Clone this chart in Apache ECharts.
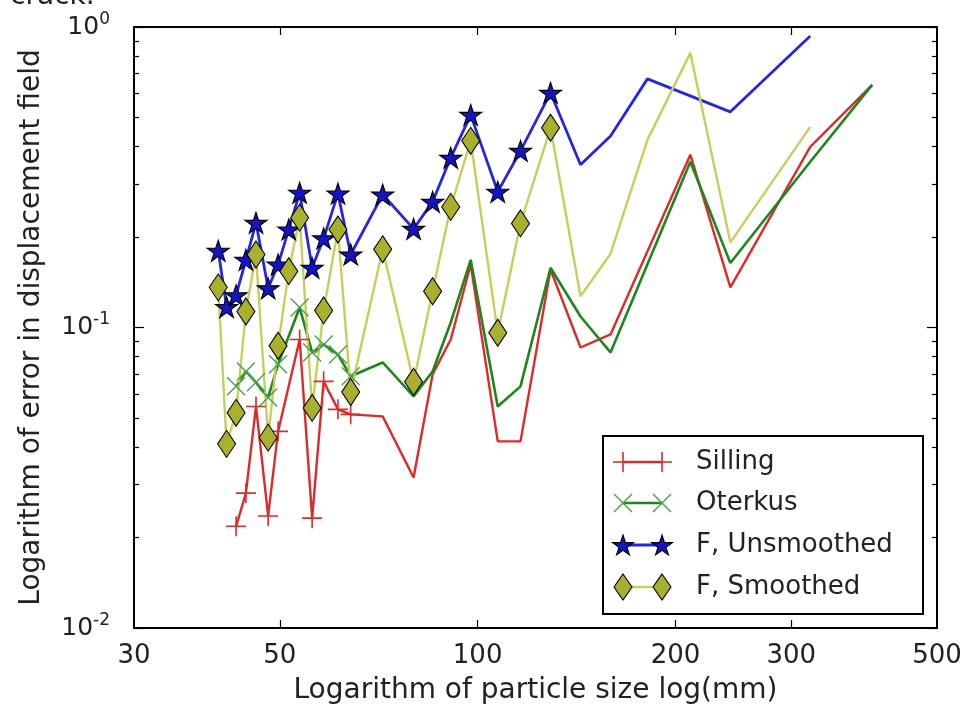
<!DOCTYPE html>
<html>
<head>
<meta charset="utf-8">
<script src="https://cdn.jsdelivr.net/npm/echarts@6/dist/echarts.min.js"></script>
<style>
  html, body { margin: 0; padding: 0; background: #fff; }
  #chart { width: 965px; height: 719px; }
</style>
</head>
<body>
<div id="chart"></div>
<script>
// Particle sizes (mm) for the two reference models
const sizeRef = [42.9, 44.4, 46.0, 48.0, 49.7, 53.6, 56.0, 58.3, 61.3, 64.1, 71.7, 79.9,
  85.4, 91.0, 97.6, 107.3, 116.2, 129.1, 143.4, 159.3, 210.7, 242.4, 320.7, 398.4];
const silling = [0.0218, 0.0281, 0.0546, 0.0236, 0.0451, 0.0912, 0.0232, 0.0662, 0.0534, 0.0514, 0.0506, 0.0317,
  0.0698, 0.0912, 0.162, 0.0418, 0.0418, 0.156, 0.0858, 0.0948, 0.376, 0.136, 0.399, 0.642];
const oterkus = [0.0637, 0.0714, 0.0657, 0.0585, 0.0754, 0.1165, 0.0826, 0.0878, 0.0813, 0.0688, 0.0765, 0.0590,
  0.0714, 0.1039, 0.168, 0.0546, 0.0637, 0.158, 0.1088, 0.0826, 0.356, 0.164, 0.356, 0.642];

// Particle sizes (mm) for the F model runs
const sizeUnsmoothed = [40.3, 41.5, 42.9, 44.4, 46.0, 48.0, 49.7, 51.6, 53.6, 56.0, 58.3, 61.3, 64.1, 71.7,
  79.9, 85.4, 91.0, 97.6, 107.3, 116.2, 129.1, 143.4, 159.3, 181.3, 242.4, 320.7];
const unsmoothed = [0.180, 0.117, 0.128, 0.168, 0.223, 0.135, 0.162, 0.212, 0.281, 0.158, 0.198, 0.279, 0.175, 0.277,
  0.213, 0.262, 0.367, 0.510, 0.283, 0.387, 0.604, 0.348, 0.434, 0.672, 0.522, 0.934];
const sizeSmoothed = [40.3, 41.5, 42.9, 44.4, 46.0, 48.0, 49.7, 51.6, 53.6, 56.0, 58.3, 61.3, 64.1, 71.7,
  79.9, 85.4, 91.0, 97.6, 107.3, 116.2, 129.1, 143.4, 159.3, 181.3, 210.7, 242.4, 320.7];
const smoothed = [0.136, 0.041, 0.052, 0.113, 0.175, 0.043, 0.087, 0.154, 0.232, 0.054, 0.114, 0.212, 0.061, 0.182,
  0.066, 0.132, 0.252, 0.418, 0.096, 0.222, 0.462, 0.127, 0.176, 0.421, 0.820, 0.192, 0.465];

// Axis ticks
const xTickLabels = [30, 50, 100, 200, 300, 500];
const xTicks = [50, 100, 200, 300];
const yMajor = [0.01, 0.1, 1];
const yMinor = [0.02, 0.03, 0.04, 0.05, 0.06, 0.07, 0.08, 0.09, 0.2, 0.3, 0.4, 0.5, 0.6, 0.7, 0.8, 0.9];

const FONT = 'DejaVu Sans';
const TEXT = '#222';

function starPath() {
  const pts = [];
  for (let k = 0; k < 10; k++) {
    const r = k % 2 === 0 ? 1 : 0.382;
    const a = -Math.PI / 2 + k * Math.PI / 5;
    pts.push((r * Math.cos(a)).toFixed(3) + ',' + (r * Math.sin(a)).toFixed(3));
  }
  return 'path://M' + pts.join('L') + 'Z';
}
const PLUS = 'path://M1,0L1,2M0,1L2,1';
const CROSS = 'path://M0,0L2,2M2,0L0,2';
const STAR = starPath();

const styles = [
  { name: 'Silling', xs: sizeRef, ys: silling, line: '#dd2a2a', width: 2.4, symbol: PLUS, size: 20,
    item: { color: 'none', borderColor: '#dd2a2a', borderWidth: 1.6 }, marked: 10, keep: false },
  { name: 'Oterkus', xs: sizeRef, ys: oterkus, line: '#1f861f', width: 2.6, symbol: CROSS, size: 18,
    item: { color: 'none', borderColor: '#4f9f4f', borderWidth: 1.4 }, marked: 10, keep: false },
  { name: 'F, Unsmoothed', xs: sizeUnsmoothed, ys: unsmoothed, line: '#2626e0', width: 2.8, symbol: STAR, size: 22,
    item: { color: '#1414c0', borderColor: '#000', borderWidth: 1.1 }, marked: 21, keep: true },
  { name: 'F, Smoothed', xs: sizeSmoothed, ys: smoothed, line: '#c6cf5c', width: 2.4, symbol: 'diamond', size: [18, 27],
    item: { color: '#a8b02c', borderColor: '#000', borderWidth: 1.1 }, marked: 21, keep: false }
];

const series = styles.map(s => ({
  name: s.name,
  type: 'line',
  xAxisIndex: 0,
  yAxisIndex: 0,
  data: s.xs.map((x, i) => i < s.marked ? { value: [x, s.ys[i]] } : { value: [x, s.ys[i]], symbol: 'none' }),
  symbol: s.symbol,
  symbolSize: s.size,
  symbolKeepAspect: s.keep,
  showAllSymbol: true,
  lineStyle: { color: s.line, width: s.width },
  itemStyle: s.item,
  emphasis: { disabled: true },
  silent: true,
  animation: false
}));

// Legend drawn as a framed box with a marker at each end of the sample line
function legendMarker(s, cx, cy) {
  const c = s.item.borderColor;
  if (s.symbol === PLUS) {
    return [
      { type: 'line', shape: { x1: cx - 10, y1: cy, x2: cx + 10, y2: cy }, style: { stroke: c, lineWidth: 1.6 } },
      { type: 'line', shape: { x1: cx, y1: cy - 10, x2: cx, y2: cy + 10 }, style: { stroke: c, lineWidth: 1.6 } }
    ];
  }
  if (s.symbol === CROSS) {
    return [
      { type: 'line', shape: { x1: cx - 9, y1: cy - 9, x2: cx + 9, y2: cy + 9 }, style: { stroke: c, lineWidth: 1.4 } },
      { type: 'line', shape: { x1: cx + 9, y1: cy - 9, x2: cx - 9, y2: cy + 9 }, style: { stroke: c, lineWidth: 1.4 } }
    ];
  }
  if (s.symbol === STAR) {
    const pts = [];
    for (let k = 0; k < 10; k++) {
      const r = k % 2 === 0 ? 11 : 4.2;
      const a = -Math.PI / 2 + k * Math.PI / 5;
      pts.push([cx + r * Math.cos(a), cy + 1 + r * Math.sin(a)]);
    }
    return [{ type: 'polygon', shape: { points: pts }, style: { fill: s.item.color, stroke: '#000', lineWidth: 1.1 } }];
  }
  return [{ type: 'polygon', shape: { points: [[cx, cy - 13], [cx + 9, cy], [cx, cy + 13], [cx - 9, cy]] },
    style: { fill: s.item.color, stroke: '#000', lineWidth: 1.1 } }];
}

const legendRows = [462, 503, 545, 587];
const legendChildren = [
  { type: 'rect', shape: { x: 603, y: 436, width: 320, height: 178 }, style: { fill: '#fff', stroke: '#000', lineWidth: 2 } }
];
styles.forEach((s, i) => {
  const y = legendRows[i];
  legendChildren.push({ type: 'line', shape: { x1: 623, y1: y, x2: 662, y2: y }, style: { stroke: s.line, lineWidth: s.width } });
  legendMarker(s, 623, y).forEach(m => legendChildren.push(m));
  legendMarker(s, 662, y).forEach(m => legendChildren.push(m));
  legendChildren.push({ type: 'text', x: 696, y: y, style: { text: s.name, font: '26px "' + FONT + '"', fill: TEXT, verticalAlign: 'middle' } });
});

function logAxis(extra) {
  return Object.assign({
    type: 'log',
    logBase: 10,
    splitLine: { show: false },
    minorTick: { show: false },
    axisLine: { show: false, lineStyle: { color: '#000', width: 2 } },
    axisTick: { show: false },
    axisLabel: { show: false }
  }, extra);
}

const xBase = { min: 30, max: 500 };
const yBase = { min: 0.01, max: 1 };

const option = {
  backgroundColor: '#fff',
  animation: false,
  grid: { left: 134, right: 28, top: 27, bottom: 91, containLabel: false, outerBoundsMode: 'none' },
  xAxis: [
    logAxis(Object.assign({}, xBase, {
      position: 'bottom',
      axisLine: { show: true, onZero: false, lineStyle: { color: '#000', width: 2 } },
      axisTick: { show: true, inside: true, length: 8, customValues: xTicks, lineStyle: { color: '#000', width: 1.2 } },
      axisLabel: { show: true, customValues: xTickLabels, fontSize: 26, fontFamily: FONT, color: TEXT, margin: 15 },
      name: 'Logarithm of particle size log(mm)',
      nameLocation: 'middle',
      nameGap: 49,
      nameTextStyle: { fontSize: 28, fontFamily: FONT, color: TEXT }
    })),
    logAxis(Object.assign({}, xBase, {
      position: 'top',
      axisLine: { show: true, onZero: false, lineStyle: { color: '#000', width: 2 } },
      axisTick: { show: true, inside: true, length: 8, customValues: xTicks, lineStyle: { color: '#000', width: 1.2 } }
    }))
  ],
  yAxis: [
    logAxis(Object.assign({}, yBase, {
      position: 'left',
      axisLine: { show: true, onZero: false, lineStyle: { color: '#000', width: 2 } },
      axisTick: { show: true, inside: true, length: 10, customValues: yMajor, lineStyle: { color: '#000', width: 1.2 } },
      axisLabel: {
        show: true, customValues: yMajor, margin: 24,
        formatter: v => '{b|10}{s|' + Math.round(Math.log10(v)) + '}',
        rich: {
          b: { fontSize: 25, fontFamily: FONT, color: TEXT, lineHeight: 32 },
          s: { fontSize: 17, fontFamily: FONT, color: TEXT, verticalAlign: 'top', lineHeight: 17 }
        }
      },
      name: 'Logarithm of error in displacement field',
      nameLocation: 'middle',
      nameGap: 88,
      nameTextStyle: { fontSize: 28, fontFamily: FONT, color: TEXT }
    })),
    logAxis(Object.assign({}, yBase, {
      position: 'left',
      axisTick: { show: true, inside: true, length: 5, customValues: yMinor, lineStyle: { color: '#000', width: 1.2 } }
    })),
    logAxis(Object.assign({}, yBase, {
      position: 'right',
      axisLine: { show: true, onZero: false, lineStyle: { color: '#000', width: 2 } },
      axisTick: { show: true, inside: true, length: 10, customValues: yMajor, lineStyle: { color: '#000', width: 1.2 } }
    })),
    logAxis(Object.assign({}, yBase, {
      position: 'right',
      axisTick: { show: true, inside: true, length: 5, customValues: yMinor, lineStyle: { color: '#000', width: 1.2 } }
    }))
  ],
  series: series,
  graphic: [
    { type: 'text', x: 10, y: -3, z: 100, style: { text: 'crack.', font: '28px "' + FONT + '"', fill: TEXT, verticalAlign: 'middle' } },
    { type: 'group', z: 100, children: legendChildren }
  ]
};

const chart = echarts.init(document.getElementById('chart'), null, { renderer: 'canvas' });
chart.setOption(option);
</script>
</body>
</html>
